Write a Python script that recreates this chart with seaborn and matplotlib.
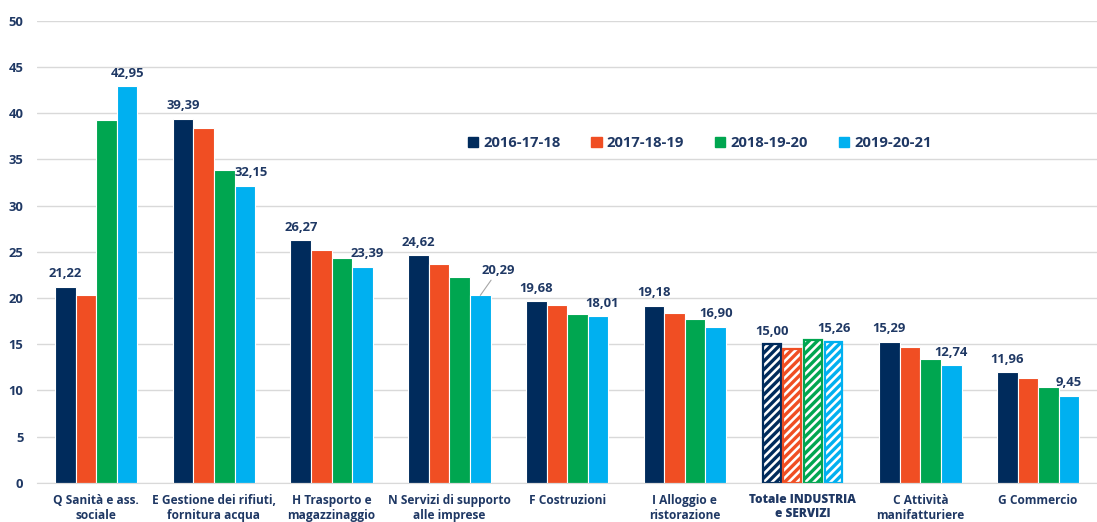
import pandas as pd
import matplotlib.pyplot as plt
import seaborn as sns
from matplotlib.patches import Patch

categories = [
    "Q Sanità e ass.\nsociale",
    "E Gestione dei rifiuti,\nfornitura acqua",
    "H Trasporto e\nmagazzinaggio",
    "N Servizi di supporto\nalle imprese",
    "F Costruzioni",
    "I Alloggio e\nristorazione",
    "Totale INDUSTRIA\ne SERVIZI",
    "C Attività\nmanifatturiere",
    "G Commercio",
]
periods = ["2016-17-18", "2017-18-19", "2018-19-20", "2019-20-21"]
v_2016_17_18 = [21.22, 39.39, 26.27, 24.62, 19.68, 19.18, 15.00, 15.29, 11.96]
v_2017_18_19 = [20.35, 38.40, 25.20, 23.70, 19.26, 18.40, 14.50, 14.70, 11.40]
v_2018_19_20 = [39.30, 33.90, 24.35, 22.30, 18.30, 17.75, 15.48, 13.40, 10.40]
v_2019_20_21 = [42.95, 32.15, 23.39, 20.29, 18.01, 16.90, 15.26, 12.74, 9.45]
colors = ["#002B5C", "#F04E23", "#00A650", "#00B0F0"]
text_color = "#1F3864"
total_idx = 6

series = [v_2016_17_18, v_2017_18_19, v_2018_19_20, v_2019_20_21]
rows = []
for p, vals in zip(periods, series):
    for c, v in zip(categories, vals):
        rows.append({"categoria": c, "periodo": p, "valore": v})
df = pd.DataFrame(rows)

sns.set_style("white")
plt.rcParams["font.family"] = ["Open Sans", "DejaVu Sans"]
plt.rcParams["hatch.linewidth"] = 2.4

fig = plt.figure(figsize=(10.97, 5.22), dpi=100)
ax = fig.add_axes([0.034, 0.075, 0.966, 0.885])

sns.barplot(data=df, x="categoria", y="valore", hue="periodo", order=categories,
            hue_order=periods, palette=colors, saturation=1, width=0.7,
            edgecolor="white", linewidth=0.8, legend=False, ax=ax)

# hatched bars for the total category
for cont, col in zip(ax.containers, colors):
    bar = cont[total_idx]
    bar.set_facecolor("white")
    bar.set_edgecolor(col)
    bar.set_hatch("////")
    bar.set_linewidth(1.6)
    bar.set_x(bar.get_x() + 0.012)
    bar.set_width(bar.get_width() - 0.024)

# small horizontal nudges of some labels, as in the original
nudge = {(1, 3): 0.05, (2, 3): 0.04, (4, 3): 0.03}

# value labels: first and last period
for i in range(len(categories)):
    for k in (0, 3):
        bar = ax.containers[k][i]
        xc = bar.get_x() + bar.get_width() / 2
        v = series[k][i]
        txt = f"{v:.2f}".replace(".", ",")
        if i == 3 and k == 3:
            ax.annotate(txt, xy=(xc, v), xytext=(xc + 0.15, v + 2.0),
                        ha="center", va="bottom", fontsize=9.4, fontweight="bold",
                        color=text_color,
                        arrowprops=dict(arrowstyle="-", color="#A6A6A6", lw=0.8,
                                        shrinkA=0, shrinkB=0))
        else:
            ax.text(xc + nudge.get((i, k), 0), v + 0.7, txt, ha="center",
                    va="bottom", fontsize=9.4, fontweight="bold", color=text_color)

ax.set_ylim(0, 50)
ax.set_xlim(-0.5, len(categories) - 0.5)
ax.set_yticks(range(0, 51, 5))
ax.yaxis.grid(True, color="#D9D9D9", lw=1)
ax.set_axisbelow(True)
for s in ["top", "right", "left"]:
    ax.spines[s].set_visible(False)
ax.spines["bottom"].set_color("#D9D9D9")
ax.tick_params(axis="y", length=0, pad=10, labelsize=9.4, labelcolor=text_color)
ax.tick_params(axis="x", length=0, pad=8, labelsize=8.6, labelcolor=text_color)
for lbl in ax.get_yticklabels():
    lbl.set_fontweight("bold")
for i, lbl in enumerate(ax.get_xticklabels()):
    lbl.set_fontweight("heavy" if i == total_idx else "bold")
    lbl.set_linespacing(1.25)
ax.set_xlabel("")
ax.set_ylabel("")

handles = [Patch(facecolor=c, edgecolor=c) for c in colors]
leg = ax.legend(handles, periods, loc="center", bbox_to_anchor=(0.625, 0.735),
                ncol=4, frameon=False, handlelength=0.7, handleheight=0.7,
                handletextpad=0.35, columnspacing=2.1,
                prop={"weight": "bold", "size": 10.6})
for t in leg.get_texts():
    t.set_color(text_color)

fig.savefig("out.png", dpi=100)
